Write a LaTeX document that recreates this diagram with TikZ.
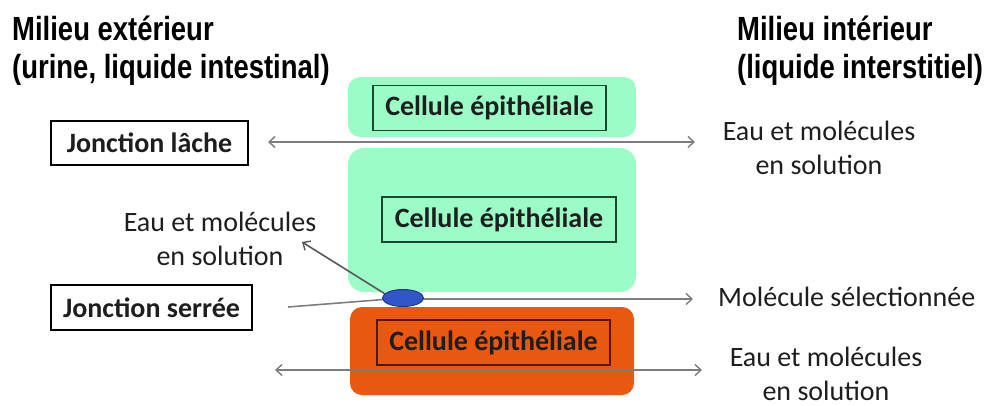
\documentclass[tikz,border=0pt]{standalone}
\usepackage{fontspec}
\setmainfont{Carlito}
\newfontfamily\headfont[FakeStretch=0.82]{Liberation Sans}
\usetikzlibrary{arrows.meta,shapes.geometric}
\definecolor{cellgreen}{RGB}{156,252,200}
\definecolor{cellorange}{RGB}{233,88,14}
\definecolor{boxgreen}{RGB}{25,70,45}
\definecolor{boxbrown}{RGB}{80,25,5}
\definecolor{arrowgrey}{RGB}{125,125,125}
\definecolor{txt}{RGB}{30,30,30}
\definecolor{blueell}{RGB}{50,85,200}
\definecolor{blueedge}{RGB}{30,55,140}
\tikzset{
  x=1pt, y=-1pt,
  body/.style={font=\fontsize{28}{34}\selectfont, text=txt, inner sep=0pt},
  heading/.style={font=\headfont\bfseries\fontsize{33.5}{38}\selectfont, align=left, inner sep=0pt, anchor=north west},
  greencell/.style={fill=cellgreen, draw=none, rounded corners=12pt, inner sep=0pt},
  orangecell/.style={fill=cellorange, draw=none, rounded corners=12pt, inner sep=0pt},
  cellbox/.style={body, font=\bfseries\fontsize{28}{34}\selectfont, line width=1.6pt, minimum width=233pt, minimum height=45pt},
  junction/.style={body, font=\bfseries\fontsize{28}{34}\selectfont, draw=black, line width=1.3pt, minimum height=44pt},
  flow/.style={draw=arrowgrey, line width=1.6pt},
  tip/.style={-{Straight Barb[length=6pt,width=11pt,line width=1.4pt]}},
  twotip/.style={{Straight Barb[length=6pt,width=11pt,line width=1.4pt]}-{Straight Barb[length=6pt,width=11pt,line width=1.4pt]}},
}
\begin{document}
\begin{tikzpicture}
\useasboundingbox (0,0) rectangle (986,405);
% headings
\node[heading] (ext) at (12,16) {Milieu extérieur\\(urine, liquide intestinal)};
\node[heading] (int) at (737,16) {Milieu intérieur\\(liquide interstitiel)};
% cells
\node[greencell, minimum width=288pt, minimum height=60pt] (c1) at (492,107) {};
\node[greencell, rounded corners=16pt, minimum width=288pt, minimum height=144pt] (c2) at (492,220) {};
\node[orangecell, minimum width=284pt, minimum height=88pt] (c3) at (492,351) {};
\node[cellbox, draw=boxgreen] (b1) at (489.5,108) {Cellule épithéliale};
\node[cellbox, draw=boxgreen, minimum width=234pt] (b2) at (499,219.5) {Cellule épithéliale};
\node[cellbox, draw=boxbrown] (b3) at (493.5,342.5) {Cellule épithéliale};
% junction labels
\node[junction, minimum width=197pt] (jl) at (149.5,143) {Jonction lâche};
\node[junction, minimum width=201pt, minimum height=45pt] (js) at (151.5,307.5) {Jonction serrée};
% right/left texts
\node[body, align=center] (t1) at (819,148) {Eau et molécules\\en solution};
\node[body, align=center] (t2) at (220,239) {Eau et molécules\\en solution};
\node[body, anchor=base west] (t3) at (718,306) {Molécule sélectionnée};
\node[body, align=center] (t4) at (826,374) {Eau et molécules\\en solution};
% coordinates for connectors
\coordinate (a1l) at (268,142);
\coordinate (a1r) at (695,142);
\coordinate (a2l) at (275,370);
\coordinate (a2r) at (702,370);
\coordinate (s0) at (288,307);
\coordinate (s1) at (390,299);
\coordinate (s2) at (693,299);
\coordinate (d0) at (390,297);
\coordinate (d1) at (302,242);
% connectors
\draw[flow, twotip] (a1l) -- (a1r);
\draw[flow, twotip] (a2l) -- (a2r);
\draw[flow, tip] (s0) -- (s1) -- (s2);
\draw[draw=black!65, line width=1.6pt, tip] (d0) -- (d1);
% channel
\node[ellipse, fill=blueell, draw=blueedge, line width=1pt, minimum width=41pt, minimum height=17pt, inner sep=0pt] (ch) at (403,298) {};
\end{tikzpicture}
\end{document}
